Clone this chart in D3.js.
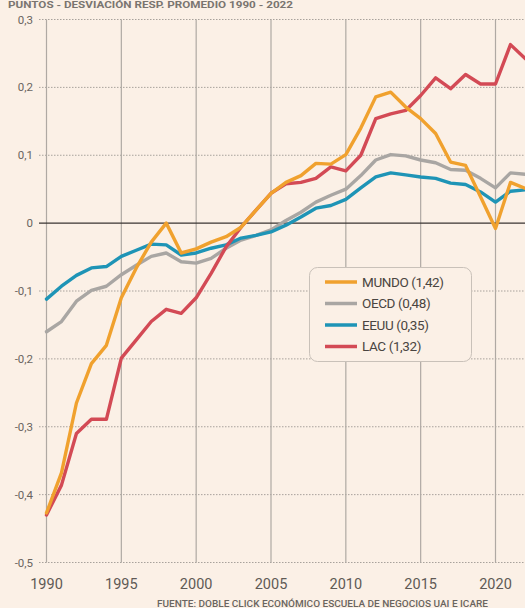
<!DOCTYPE html>
<html>
<head>
<meta charset="utf-8">
<script src="https://cdn.jsdelivr.net/npm/d3@7"></script>
<style>
  html, body { margin: 0; padding: 0; background: #fbf0e6; }
  svg { display: block; }
  text { font-family: Roboto, "Open Sans", sans-serif; }
</style>
</head>
<body>
<svg id="chart" width="525" height="608"></svg>
<script>
const years = d3.range(1990, 2023);
const xTickYears = [1990, 1995, 2000, 2005, 2010, 2015, 2020];
const yTicks = [0.3, 0.2, 0.1, 0, -0.1, -0.2, -0.3, -0.4, -0.5];

const mundo = [-0.427, -0.368, -0.265, -0.207, -0.18, -0.11, -0.066, -0.028, 0.0, -0.044,
  -0.038, -0.028, -0.02, -0.006, 0.019, 0.044, 0.06, 0.07, 0.088, 0.087,
  0.101, 0.14, 0.186, 0.193, 0.171, 0.154, 0.132, 0.09, 0.085, 0.039,
  -0.008, 0.06, 0.051];
const oecd = [-0.16, -0.145, -0.115, -0.099, -0.093, -0.076, -0.062, -0.049, -0.044, -0.057,
  -0.059, -0.052, -0.037, -0.025, -0.018, -0.01, 0.004, 0.016, 0.031, 0.041,
  0.05, 0.07, 0.093, 0.101, 0.099, 0.093, 0.089, 0.079, 0.078, 0.066,
  0.052, 0.074, 0.072];
const eeuu = [-0.112, -0.093, -0.077, -0.066, -0.064, -0.049, -0.04, -0.031, -0.032, -0.047,
  -0.044, -0.037, -0.032, -0.022, -0.018, -0.013, -0.003, 0.009, 0.022, 0.026,
  0.035, 0.052, 0.068, 0.074, 0.071, 0.068, 0.066, 0.059, 0.057, 0.046,
  0.031, 0.047, 0.049];
const lac = [-0.43, -0.386, -0.31, -0.289, -0.289, -0.199, -0.172, -0.145, -0.127, -0.133,
  -0.11, -0.074, -0.035, -0.006, 0.019, 0.044, 0.058, 0.06, 0.066, 0.083,
  0.077, 0.1, 0.154, 0.161, 0.166, 0.188, 0.214, 0.198, 0.219, 0.205,
  0.205, 0.263, 0.242];

const seriesNames = ["MUNDO (1,42)", "OECD (0,48)", "EEUU (0,35)", "LAC (1,32)"];
const seriesColors = ["#f0a12e", "#a9a6a3", "#1e94b6", "#d34a55"];
const seriesValues = [mundo, oecd, eeuu, lac];
const drawOrder = [1, 2, 3, 0];

const svg = d3.select("#chart");
const x = d3.scaleLinear().domain([1990, 2020]).range([46.5, 495.5]);
const y = d3.scaleLinear().domain([-0.5, 0.3]).range([562.5, 19.5]);
const fmt = v => (v === 0 ? "0" : d3.format(".1f")(v).replace(".", ",").replace("−", "-"));

// title (at the very top)
svg.append("text").attr("x", 8).attr("y", 8)
  .attr("font-size", 9).attr("font-weight", 700).attr("fill", "#7a7570")
  .attr("textLength", 285).attr("lengthAdjust", "spacingAndGlyphs")
  .text("PUNTOS - DESVIACIÓN RESP. PROMEDIO 1990 - 2022");

// horizontal dotted grid
yTicks.forEach(t => {
  if (t === 0) return;
  svg.append("line").attr("x1", 39).attr("x2", 525)
    .attr("y1", y(t)).attr("y2", y(t))
    .attr("stroke", "#a8a29c").attr("stroke-width", 1).attr("stroke-dasharray", "1.5,1.5");
});

// vertical grid
xTickYears.forEach(yr => {
  svg.append("line").attr("x1", x(yr)).attr("x2", x(yr))
    .attr("y1", y(0.3)).attr("y2", y(-0.5))
    .attr("stroke", "#afa9a3").attr("stroke-width", 1.2);
});

// zero line
svg.append("line").attr("x1", 39).attr("x2", 525)
  .attr("y1", y(0)).attr("y2", y(0))
  .attr("stroke", "#3a3532").attr("stroke-width", 1.1);

// y labels
yTicks.forEach(t => {
  svg.append("text").attr("x", 33).attr("y", y(t)).attr("dy", "0.35em")
    .attr("text-anchor", "end").attr("font-size", 11.5).attr("fill", "#6a6560")
    .text(fmt(t));
});

// x labels
xTickYears.forEach(yr => {
  svg.append("text").attr("x", x(yr)).attr("y", 589)
    .attr("text-anchor", "middle").attr("font-size", 14.5).attr("fill", "#5f5a55")
    .text(yr);
});

// lines
const line = d3.line().x((d, i) => x(years[i])).y(d => y(d));
drawOrder.forEach(k => {
  svg.append("path").datum(seriesValues[k])
    .attr("d", line).attr("fill", "none")
    .attr("stroke", seriesColors[k]).attr("stroke-width", 3.4)
    .attr("stroke-linejoin", "round").attr("stroke-linecap", "round");
});

// legend
const lg = svg.append("g");
lg.append("rect").attr("x", 309.5).attr("y", 267.5).attr("width", 162).attr("height", 94)
  .attr("rx", 8).attr("fill", "#fbf0e6").attr("stroke", "#c9c1b9").attr("stroke-width", 1);
const rowY = [282, 303.5, 325, 346.5];
seriesNames.forEach((n, i) => {
  lg.append("line").attr("x1", 325).attr("x2", 357).attr("y1", rowY[i]).attr("y2", rowY[i])
    .attr("stroke", seriesColors[i]).attr("stroke-width", 3.5);
  lg.append("text").attr("x", 362).attr("y", rowY[i]).attr("dy", "0.36em")
    .attr("font-size", 13.5).attr("fill", "#4a4541").attr("letter-spacing", "-0.4")
    .text(n);
});

// source
svg.append("text").attr("x", 157).attr("y", 606.5)
  .attr("font-size", 9.5).attr("font-weight", 500).attr("fill", "#6a6560")
  .attr("textLength", 331).attr("lengthAdjust", "spacingAndGlyphs")
  .text("FUENTE: DOBLE CLICK ECONÓMICO ESCUELA DE NEGOCIOS UAI E ICARE");
</script>
</body>
</html>
